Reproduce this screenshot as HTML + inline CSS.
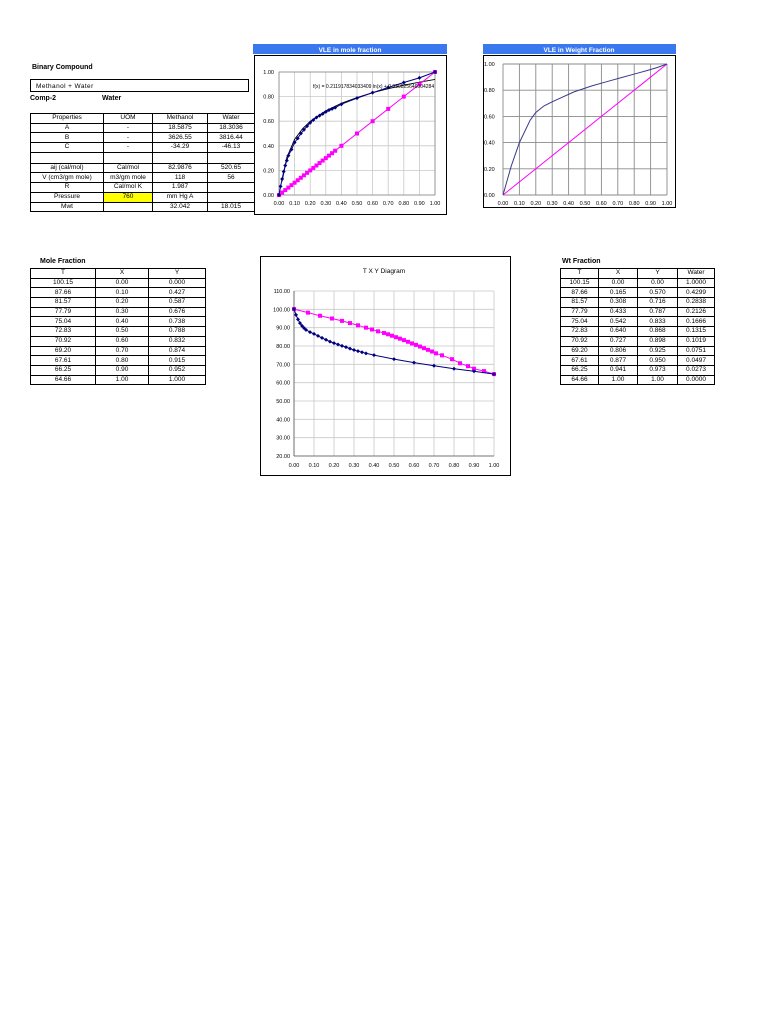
<!DOCTYPE html>
<html><head><meta charset="utf-8"><style>
body{margin:0;width:768px;height:1024px;background:#fff;position:relative;font-family:"Liberation Sans",sans-serif;overflow:hidden}
.lbl{position:absolute;font-size:7px;font-weight:bold;color:#000}
table{position:absolute;border-collapse:collapse;font-size:6.5px;table-layout:fixed}
td{border:1px solid #000;text-align:center;padding:0;height:8.7px;line-height:8px;white-space:nowrap;overflow:hidden}
svg{position:absolute;left:0;top:0}
</style></head><body>
<div class="lbl" style="left:32px;top:64px">Binary Compound</div>
<div style="position:absolute;left:30px;top:79px;width:218px;height:13px;border:1px solid #000;font-size:6.5px;line-height:13px;padding-left:5px;box-sizing:border-box;width:219px;letter-spacing:0.4px">Methanol + Water</div>
<div class="lbl" style="left:30px;top:95px">Comp-2</div>
<div class="lbl" style="left:102px;top:95px">Water</div>
<table style="left:30px;top:113px;width:224px">
<colgroup><col style="width:73px"><col style="width:49px"><col style="width:55px"><col style="width:47px"></colgroup>
<tr><td>Properties</td><td>UOM</td><td>Methanol</td><td>Water</td></tr>
<tr><td>A</td><td>-</td><td>18.5875</td><td>18.3036</td></tr>
<tr><td>B</td><td>-</td><td>3626.55</td><td>3816.44</td></tr>
<tr><td>C</td><td>-</td><td>-34.29</td><td>-46.13</td></tr>
<tr><td style="height:10px"></td><td></td><td></td><td></td></tr>
<tr><td>aij (cal/mol)</td><td>Cal/mol</td><td>82.9876</td><td>520.65</td></tr>
<tr><td>V (cm3/gm mole)</td><td>m3/gm mole</td><td>118</td><td>56</td></tr>
<tr><td>R</td><td>Cal/mol K</td><td>1.987</td><td></td></tr>
<tr><td>Pressure</td><td style="background:#ffff00">760</td><td>mm Hg A</td><td></td></tr>
<tr><td>Mwt</td><td></td><td>32.042</td><td>18.015</td></tr>
</table>

<div class="lbl" style="left:40px;top:258px">Mole Fraction</div>
<table style="left:30px;top:268px;width:175px">
<colgroup><col style="width:65px"><col style="width:53px"><col style="width:57px"></colgroup>
<tr><td>T</td><td>X</td><td>Y</td></tr>
<tr><td>100.15</td><td>0.00</td><td>0.000</td></tr>
<tr><td>87.66</td><td>0.10</td><td>0.427</td></tr>
<tr><td>81.57</td><td>0.20</td><td>0.587</td></tr>
<tr><td>77.79</td><td>0.30</td><td>0.676</td></tr>
<tr><td>75.04</td><td>0.40</td><td>0.738</td></tr>
<tr><td>72.83</td><td>0.50</td><td>0.788</td></tr>
<tr><td>70.92</td><td>0.60</td><td>0.832</td></tr>
<tr><td>69.20</td><td>0.70</td><td>0.874</td></tr>
<tr><td>67.61</td><td>0.80</td><td>0.915</td></tr>
<tr><td>66.25</td><td>0.90</td><td>0.952</td></tr>
<tr><td>64.66</td><td>1.00</td><td>1.000</td></tr>
</table>

<div class="lbl" style="left:562px;top:258px">Wt Fraction</div>
<table style="left:560px;top:268px;width:154px">
<colgroup><col style="width:38px"><col style="width:39px"><col style="width:40px"><col style="width:37px"></colgroup>
<tr><td>T</td><td>X</td><td>Y</td><td>Water</td></tr>
<tr><td>100.15</td><td>0.00</td><td>0.00</td><td>1.0000</td></tr>
<tr><td>87.66</td><td>0.165</td><td>0.570</td><td>0.4299</td></tr>
<tr><td>81.57</td><td>0.308</td><td>0.716</td><td>0.2838</td></tr>
<tr><td>77.79</td><td>0.433</td><td>0.787</td><td>0.2126</td></tr>
<tr><td>75.04</td><td>0.542</td><td>0.833</td><td>0.1666</td></tr>
<tr><td>72.83</td><td>0.640</td><td>0.868</td><td>0.1315</td></tr>
<tr><td>70.92</td><td>0.727</td><td>0.898</td><td>0.1019</td></tr>
<tr><td>69.20</td><td>0.806</td><td>0.925</td><td>0.0751</td></tr>
<tr><td>67.61</td><td>0.877</td><td>0.950</td><td>0.0497</td></tr>
<tr><td>66.25</td><td>0.941</td><td>0.973</td><td>0.0273</td></tr>
<tr><td>64.66</td><td>1.00</td><td>1.00</td><td>0.0000</td></tr>
</table>

<svg id="s" width="768" height="1024" xmlns="http://www.w3.org/2000/svg"></svg>
<script>
// ---- data: VLE mole fraction ----
const moleX = [0,0.01,0.02,0.03,0.04,0.05,0.06,0.08,0.10,0.12,0.14,0.16,0.18,0.20,0.22,0.24,0.26,0.28,0.30,0.32,0.34,0.36,0.40,0.50,0.60,0.70,0.80,0.90,1.00];
const moleY = [0,0.07,0.13,0.19,0.24,0.28,0.32,0.37,0.427,0.46,0.50,0.53,0.56,0.587,0.61,0.63,0.645,0.66,0.676,0.69,0.70,0.71,0.738,0.788,0.832,0.874,0.915,0.952,1.00];
const diagX = [0,0.02,0.04,0.06,0.08,0.10,0.12,0.14,0.16,0.18,0.20,0.22,0.24,0.26,0.28,0.30,0.32,0.34,0.36,0.40,0.50,0.60,0.70,0.80,0.90,1.00];
const fitCoefA = [0.211917834033409];
const fitCoefB = [0.9398];
const fitX = [0.02,0.05,0.1,0.15,0.2,0.3,0.4,0.5,0.6,0.7,0.8,0.9,1.0];
const moleTicksX = ["0.00","0.10","0.20","0.30","0.40","0.50","0.60","0.70","0.80","0.90","1.00"];
const moleTicksY = ["0.00","0.20","0.40","0.60","0.80","1.00"];
// ---- data: VLE weight fraction ----
const wtX = [0,0.05,0.10,0.165,0.20,0.25,0.308,0.433,0.542,0.640,0.727,0.806,0.877,0.941,1.00];
const wtY = [0,0.22,0.40,0.570,0.63,0.68,0.716,0.787,0.833,0.868,0.898,0.925,0.950,0.973,1.00];
// ---- data: TXY ----
const txyLiqX = [0,0.01,0.02,0.03,0.04,0.05,0.06,0.08,0.10,0.12,0.14,0.16,0.18,0.20,0.22,0.24,0.26,0.28,0.30,0.32,0.34,0.36,0.40,0.50,0.60,0.70,0.80,0.90,1.00];
const txyLiqT = [100.15,97,94.5,92.5,91,89.8,88.8,87.6,86.6,85.5,84.4,83.4,82.4,81.57,80.8,80.1,79.4,78.6,77.79,77.2,76.6,76,75.04,72.83,70.92,69.2,67.61,66.25,64.66];
const txyVapY = [0,0.07,0.13,0.19,0.24,0.28,0.32,0.36,0.39,0.42,0.45,0.47,0.49,0.51,0.53,0.55,0.57,0.59,0.61,0.63,0.65,0.67,0.69,0.71,0.74,0.79,0.83,0.87,0.90,0.95,1.00];
const txyVapT = [100.15,98.2,96.5,95,93.7,92.5,91.3,90,89,88,87.1,86.4,85.6,84.8,84,83.2,82.3,81.4,80.6,79.7,78.8,77.9,77,76,74.9,72.8,70.6,69,67.6,66.3,64.66];
const txyTicksY = ["20.00","30.00","40.00","50.00","60.00","70.00","80.00","90.00","100.00","110.00"];

const S=document.getElementById('s');const NS='http://www.w3.org/2000/svg';
function mk(t,a,p){const e=document.createElementNS(NS,t);for(const k in a)e.setAttribute(k,a[k]);(p||S).appendChild(e);return e;}
function txt(x,y,s,anchor,size,p,bold,fill){const e=mk('text',{x:x,y:y,'text-anchor':anchor||'start','font-size':size||6,'font-family':'Liberation Sans, sans-serif','font-weight':bold?'bold':'normal',fill:fill||'#000'},p);e.textContent=s;return e;}
function ptsPath(xs,ys,sx,sy){return xs.map((v,i)=>(i?'L':'M')+sx(v).toFixed(1)+','+sy(ys[i]).toFixed(1)).join('');}
function diamond(g,x,y,c){const e=mk('path',{d:`M${x-2},${y}L${x},${y-2}L${x+2},${y}L${x},${y+2}Z`,fill:c},g);return e;}
function square(g,x,y,c){return mk('rect',{x:x-2,y:y-2,width:4,height:4,fill:c},g);}

// ===== Chart 1: VLE mole fraction =====
{
const g=mk('g',{});


const t=mk('rect',{x:253,y:44,width:194,height:10,fill:'#3a78f0'},g);


const tt=txt(350,52,'VLE in mole fraction','middle',6.5,g,true,'#fff');


mk('rect',{x:254.5,y:55.5,width:192,height:159,fill:'#fff',stroke:'#000','stroke-width':1},g);
const x0=279,x1=435,y0=195,y1=72;
const sx=v=>x0+(x1-x0)*v, sy=v=>y0-(y0-y1)*v;
moleTicksX.forEach((s,i)=>{const v=i/10;mk('line',{x1:sx(v),x2:sx(v),y1:y1,y2:y0,stroke:'#c8c8c8','stroke-width':0.8},g);const l=txt(sx(v),205,s,'middle',5.5,g);});
moleTicksY.forEach((s,i)=>{const v=i*0.2;mk('line',{x1:x0,x2:x1,y1:sy(v),y2:sy(v),stroke:'#c8c8c8','stroke-width':0.8},g);const l=txt(274,sy(v)+2,s,'end',5.5,g);});
mk('rect',{x:x0,y:y1,width:x1-x0,height:y0-y1,fill:'none',stroke:'#888','stroke-width':0.8},g);
const fy=fitX.map(v=>fitCoefA[0]*Math.log(v)+fitCoefB[0]);
const fl=mk('path',{d:ptsPath(fitX,fy,sx,sy),fill:'none',stroke:'#000','stroke-width':0.9},g);


const dl=mk('path',{d:ptsPath(diagX,diagX,sx,sy),fill:'none',stroke:'#ff00ff','stroke-width':1},g);


diagX.forEach(v=>{const m=square(g,sx(v),sy(v),'#ff00ff');});
const bl=mk('path',{d:ptsPath(moleX,moleY,sx,sy),fill:'none',stroke:'#000080','stroke-width':1},g);


moleX.forEach((v,i)=>{const m=diamond(g,sx(v),sy(moleY[i]),'#000080');});
const eq=txt(313,88,'f(x) = 0.211917834033409 ln(x) + 0.939825646004284','start',5,g);


}

// ===== Chart 2: VLE weight fraction =====
{
const g=mk('g',{});


const t=mk('rect',{x:483,y:44,width:193,height:10,fill:'#3a78f0'},g);


const tt=txt(579,52,'VLE in Weight Fraction','middle',6.5,g,true,'#fff');


mk('rect',{x:483.5,y:55.5,width:192,height:152,fill:'#fff',stroke:'#000','stroke-width':1},g);
const x0=503,x1=667,y0=195,y1=64;
const sx=v=>x0+(x1-x0)*v, sy=v=>y0-(y0-y1)*v;
moleTicksX.forEach((s,i)=>{const v=i/10;mk('line',{x1:sx(v),x2:sx(v),y1:y1,y2:y0,stroke:'#8a8a8a','stroke-width':0.9},g);const l=txt(sx(v),205,s,'middle',5.5,g);});
moleTicksY.forEach((s,i)=>{const v=i*0.2;mk('line',{x1:x0,x2:x1,y1:sy(v),y2:sy(v),stroke:'#8a8a8a','stroke-width':0.9},g);const l=txt(484,sy(v)+2,s,'start',5.5,g);});
const dl=mk('path',{d:ptsPath([0,1],[0,1],sx,sy),fill:'none',stroke:'#ff00ff','stroke-width':1},g);


const bl=mk('path',{d:ptsPath(wtX,wtY,sx,sy),fill:'none',stroke:'#3a3a90','stroke-width':1},g);


}

// ===== Chart 3: TXY =====
{
const g=mk('g',{});


mk('rect',{x:260.5,y:256.5,width:250,height:219,fill:'#fff',stroke:'#000','stroke-width':1},g);
const tt=txt(384,273,'T X Y Diagram','middle',6.5,g,false);


const x0=294,x1=494,y0=456,y1=291;
const sx=v=>x0+(x1-x0)*v, sy=v=>y0-(y0-y1)*(v-20)/90;
moleTicksX.forEach((s,i)=>{const v=i/10;mk('line',{x1:sx(v),x2:sx(v),y1:y1,y2:y0,stroke:'#c8c8c8','stroke-width':0.8},g);const l=txt(sx(v),467,s,'middle',5.5,g);});
txyTicksY.forEach((s,i)=>{const v=20+i*10;mk('line',{x1:x0,x2:x1,y1:sy(v),y2:sy(v),stroke:'#c8c8c8','stroke-width':0.8},g);const l=txt(290,sy(v)+2,s,'end',5.5,g);});
mk('line',{x1:x0,x2:x0,y1:y1,y2:y0,stroke:'#555','stroke-width':0.8},g);
mk('line',{x1:x0,x2:x1,y1:y0,y2:y0,stroke:'#555','stroke-width':0.8},g);
const vl=mk('path',{d:ptsPath(txyVapY,txyVapT,sx,sy),fill:'none',stroke:'#ff00ff','stroke-width':1},g);


txyVapY.forEach((v,i)=>{const m=square(g,sx(v),sy(txyVapT[i]),'#ff00ff');});
const ll=mk('path',{d:ptsPath(txyLiqX,txyLiqT,sx,sy),fill:'none',stroke:'#000080','stroke-width':1},g);


txyLiqX.forEach((v,i)=>{const m=diamond(g,sx(v),sy(txyLiqT[i]),'#000080');});
}
</script>
</body></html>
